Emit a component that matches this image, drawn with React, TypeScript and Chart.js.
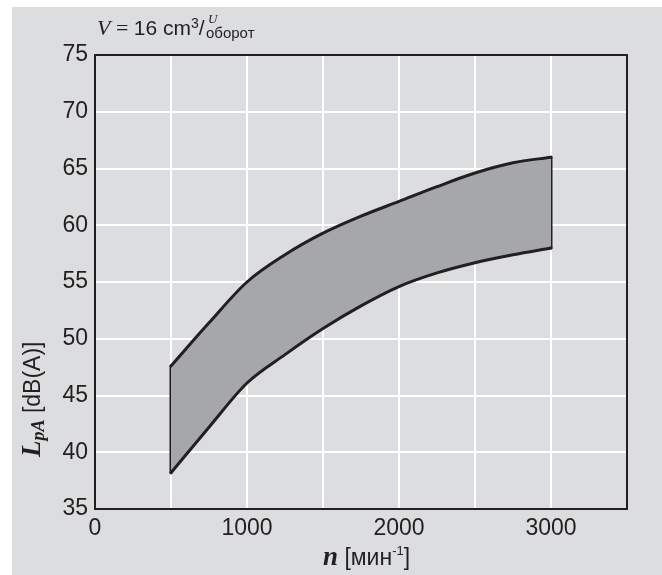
import React, { useEffect, useRef } from "react";
import { Chart, registerables } from "chart.js";

Chart.register(...registerables);

const speeds = [500, 750, 1000, 1250, 1500, 1750, 2000, 2250, 2500, 2750, 3000];
const upperLevel = [47.6, 51.4, 55.0, 57.4, 59.3, 60.8, 62.1, 63.4, 64.6, 65.5, 66.0];
const lowerLevel = [38.2, 42.2, 46.1, 48.6, 50.9, 52.9, 54.6, 55.8, 56.7, 57.4, 58.0];
const xTickLabels = [0, 1000, 2000, 3000];
const yMin = 35;
const yMax = 75;
const xMin = 0;
const xMax = 3500;

const TEXT = "#231f20";
const SANS = "'Liberation Sans', Arial, sans-serif";
const SERIF = "'Liberation Serif', 'Times New Roman', serif";

type Piece = { t: string; font: string; dy?: number; dx?: number };

function drawPieces(ctx: CanvasRenderingContext2D, x: number, y: number, pieces: Piece[]) {
  let cx = x;
  for (const p of pieces) {
    ctx.font = p.font;
    cx += p.dx || 0;
    ctx.fillText(p.t, cx, y + (p.dy || 0));
    cx += ctx.measureText(p.t).width;
  }
}

const decorPlugin = {
  id: "decor",
  beforeDraw(chart: any) {
    const ctx = chart.ctx as CanvasRenderingContext2D;
    ctx.save();
    ctx.fillStyle = "#ffffff";
    ctx.fillRect(0, 0, chart.width, chart.height);
    ctx.fillStyle = "#dcdddf";
    ctx.fillRect(12, 7, chart.width - 12, chart.height - 7);
    ctx.restore();
  },
  afterDraw(chart: any) {
    const ctx = chart.ctx as CanvasRenderingContext2D;
    const a = chart.chartArea;
    ctx.save();
    ctx.strokeStyle = "#231f20";
    ctx.lineWidth = 2;
    ctx.strokeRect(a.left, a.top, a.right - a.left, a.bottom - a.top);

    ctx.fillStyle = TEXT;
    ctx.textBaseline = "alphabetic";
    ctx.textAlign = "left";

    // top title
    drawPieces(ctx, 97, 35, [
      { t: "V", font: `italic 22px ${SERIF}` },
      { t: " = ", font: `22px ${SERIF}` },
      { t: "16 cm", font: `21px ${SANS}` },
      { t: "3", font: `14px ${SANS}`, dy: -7 },
      { t: "/", font: `21px ${SANS}` },
    ]);
    ctx.font = `italic 13px ${SERIF}`;
    ctx.fillText("U", 208, 23);
    ctx.font = `15px ${SANS}`;
    ctx.fillText("оборот", 206, 38);

    // x title
    drawPieces(ctx, 323, 565, [
      { t: "n", font: `bold italic 27px ${SERIF}` },
      { t: " [мин", font: `23px ${SANS}` },
      { t: "-1", font: `13px ${SANS}`, dy: -10 },
      { t: "]", font: `23px ${SANS}` },
    ]);

    // y title
    ctx.translate(40, 457);
    ctx.rotate(-Math.PI / 2);
    drawPieces(ctx, 0, 0, [
      { t: "L", font: `bold italic 27px ${SERIF}` },
      { t: "pA", font: `bold italic 18px ${SERIF}`, dy: 4 },
      { t: " [dB(A)]", font: `23px ${SANS}` },
    ]);
    ctx.restore();
  },
};

export default function App() {
  const ref = useRef<HTMLCanvasElement | null>(null);

  useEffect(() => {
    if (!ref.current) return;
    const lower = speeds.map((x, i) => ({ x, y: lowerLevel[i] }));
    const upper = speeds.map((x, i) => ({ x, y: upperLevel[i] }));
    const first = 0;
    const last = speeds.length - 1;
    const leftEdge = [
      { x: speeds[first], y: lowerLevel[first] },
      { x: speeds[first], y: upperLevel[first] },
    ];
    const rightEdge = [
      { x: speeds[last], y: lowerLevel[last] },
      { x: speeds[last], y: upperLevel[last] },
    ];
    const lineBase = {
      borderColor: "#231f20",
      borderWidth: 3,
      pointRadius: 0,
      borderCapStyle: "round" as const,
      borderJoinStyle: "round" as const,
      cubicInterpolationMode: "monotone" as const,
    };
    const chart = new Chart(ref.current, {
      type: "line",
      data: {
        datasets: [
          { ...lineBase, data: lower, fill: false },
          { ...lineBase, data: upper, fill: "-1", backgroundColor: "#a6a7aa" },
          { ...lineBase, data: leftEdge, fill: false },
          { ...lineBase, data: rightEdge, fill: false },
        ],
      },
      options: {
        animation: false,
        responsive: false,
        devicePixelRatio: 1,
        layout: { padding: { left: 0, top: 55, right: 35, bottom: 0 } },
        plugins: { legend: { display: false }, tooltip: { enabled: false } },
        scales: {
          x: {
            type: "linear",
            min: xMin,
            max: xMax,
            afterFit: (s: any) => {
              s.height = 66;
            },
            border: { display: false },
            grid: { color: "#ffffff", lineWidth: 2, drawTicks: false },
            ticks: {
              stepSize: 500,
              autoSkip: false,
              maxRotation: 0,
              padding: 6,
              color: TEXT,
              font: { family: SANS, size: 23 },
              callback: (v: any) => (xTickLabels.includes(Number(v)) ? String(v) : ""),
            },
          },
          y: {
            type: "linear",
            min: yMin,
            max: yMax,
            afterFit: (s: any) => {
              s.width = 95;
            },
            border: { display: false },
            grid: { color: "#ffffff", lineWidth: 2, drawTicks: false },
            ticks: {
              stepSize: 5,
              padding: 7,
              color: TEXT,
              font: { family: SANS, size: 23 },
            },
          },
        },
      },
      plugins: [decorPlugin],
    });
    return () => chart.destroy();
  }, []);

  return (
    <div style={{ position: "absolute", left: 0, top: 0, width: 662, height: 575 }}>
      <canvas ref={ref} width={662} height={575} style={{ width: 662, height: 575, display: "block" }} />
    </div>
  );
}
